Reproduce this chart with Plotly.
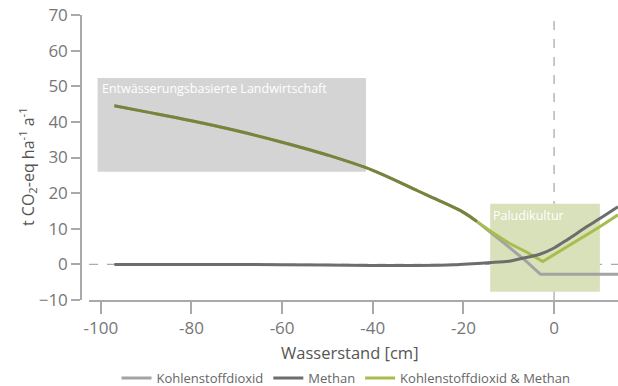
import plotly.graph_objects as go

# Water level (cm) and annual emissions (t CO2-eq per ha and year)
co2_x = [-97, -90, -80, -70, -60, -50, -40, -30, -25, -20, -17, -14, -10, -6, -3, 0, 5, 10, 14.1]
co2_y = [44.5, 42.8, 40.3, 37.5, 34.3, 30.7, 26.4, 20.6, 17.7, 14.6, 12.0, 9.0, 4.9, 0.7, -2.8, -2.8, -2.8, -2.8, -2.8]

ch4_x = [-97, -80, -60, -40, -30, -22, -18, -14, -10, -7, -3, 0, 3, 7, 10, 14.1]
ch4_y = [0.0, 0.0, -0.1, -0.3, -0.3, -0.1, 0.2, 0.5, 0.9, 1.7, 2.9, 4.6, 7.0, 10.4, 12.8, 16.2]

sum_x = [-97, -90, -80, -70, -60, -50, -40, -30, -25, -20, -17, -14, -10, -6, -2.5, 0, 5, 10, 14.1]
sum_y = [44.5, 42.8, 40.3, 37.5, 34.3, 30.7, 26.4, 20.6, 17.7, 14.6, 12.0, 9.3, 6.0, 3.4, 0.8, 2.7, 6.6, 10.5, 13.9]
split_at = -17  # where the combined curve leaves the CO2 curve

x_ticks = [-100, -80, -60, -40, -20, 0]
y_ticks = [-10, 0, 10, 20, 30, 40, 50, 60, 70]

names = ["Kohlenstoffdioxid", "Methan", "Kohlenstoffdioxid & Methan"]

FONT = "Open Sans"
C_CO2 = "#a3a3a3"
C_CH4 = "#6d6d6d"
C_SUM = "#a7bd4d"
C_OVERLAP = "#76853a"

fig = go.Figure()

i_co2 = co2_x.index(split_at)
i_sum = sum_x.index(split_at)

# CO2: smooth drained part, straight wet part
fig.add_trace(go.Scatter(x=co2_x[:i_co2 + 1], y=co2_y[:i_co2 + 1], mode="lines",
                         line=dict(color=C_CO2, width=3, shape="spline", smoothing=1),
                         showlegend=False, legendgroup="co2"))
fig.add_trace(go.Scatter(x=co2_x[i_co2:], y=co2_y[i_co2:], mode="lines", name=names[0],
                         line=dict(color=C_CO2, width=3), legendrank=1, legendgroup="co2"))

# CO2 + CH4: where it runs on the CO2 curve, and its own branch
fig.add_trace(go.Scatter(x=sum_x[:i_sum + 1], y=sum_y[:i_sum + 1], mode="lines",
                         line=dict(color=C_OVERLAP, width=3, shape="spline", smoothing=1),
                         showlegend=False, legendgroup="sum"))
fig.add_trace(go.Scatter(x=sum_x[i_sum:], y=sum_y[i_sum:], mode="lines", name=names[2],
                         line=dict(color=C_SUM, width=3), legendrank=3, legendgroup="sum"))

fig.add_trace(go.Scatter(x=ch4_x, y=ch4_y, mode="lines", name=names[1],
                         line=dict(color=C_CH4, width=3, shape="spline", smoothing=0.8),
                         legendrank=2))

# Background areas
fig.add_shape(type="rect", xref="x", yref="y", x0=-100.7, x1=-41.5, y0=26, y1=52.3,
              fillcolor="#d4d4d4", line_width=0, layer="below")
fig.add_shape(type="rect", xref="x", yref="y", x0=-14.1, x1=10.1, y0=-7.7, y1=17,
              fillcolor="#d8e1b9", line_width=0, layer="below")

# Reference lines at zero
fig.add_shape(type="line", xref="x domain", yref="y", x0=0, x1=1, y0=0, y1=0,
              line=dict(color="#ababab", width=1.3, dash="dash"), layer="below")
fig.add_shape(type="line", xref="x", yref="y domain", x0=0, x1=0, y0=0, y1=1,
              line=dict(color="#ababab", width=1.3, dash="dash"), layer="below")

fig.add_annotation(x=-100.2, y=52.2, xref="x", yref="y", xanchor="left", yanchor="top",
                   text="Entwässerungsbasierte Landwirtschaft", showarrow=False,
                   font=dict(family=FONT, size=12.5, color="white"))
fig.add_annotation(x=-13.9, y=16.8, xref="x", yref="y", xanchor="left", yanchor="top",
                   text="Paludikultur", showarrow=False,
                   font=dict(family=FONT, size=12.5, color="white"))

fig.add_annotation(x=-0.1006, y=0.47, xref="paper", yref="paper", textangle=-90,
                   xanchor="center", yanchor="middle",
                   text="t CO<sub>2</sub>-eq ha<sup>-1</sup> a<sup>-1</sup>", showarrow=False,
                   font=dict(family=FONT, size=16, color="#555555"))
fig.add_annotation(x=0.501, y=-0.1825, xref="paper", yref="paper",
                   xanchor="center", yanchor="middle",
                   text="Wasserstand [cm]", showarrow=False,
                   font=dict(family=FONT, size=16.5, color="#555555"))

fig.update_layout(
    width=618, height=386,
    margin=dict(l=81, r=0, t=15, b=86, autoexpand=False),
    paper_bgcolor="white", plot_bgcolor="white",
    font=dict(family=FONT, color="#777777"),
    showlegend=True,
    legend=dict(orientation="h", x=0.4935, xanchor="center", y=-0.274, yanchor="middle",
                font=dict(family=FONT, size=13, color="#666666"),
                itemwidth=30, tracegroupgap=0),
    xaxis=dict(domain=[0.0149, 1], range=[-102.6, 14.1], tickvals=x_ticks,
               ticktext=[str(v) for v in x_ticks],
               showgrid=False, zeroline=False, showline=True, linecolor="#a9a9a9", linewidth=1.5,
               ticks="outside", ticklen=12, tickwidth=1.5, tickcolor="#a9a9a9",
               tickfont=dict(family=FONT, size=17, color="#777777")),
    yaxis=dict(anchor="free", position=0, range=[-10, 70], tickvals=y_ticks,
               showgrid=False, zeroline=False, showline=True, linecolor="#a9a9a9", linewidth=1.5,
               ticks="outside", ticklen=9, tickwidth=1.5, tickcolor="#a9a9a9",
               tickfont=dict(family=FONT, size=17, color="#777777")),
)

fig.write_html("out.html")
